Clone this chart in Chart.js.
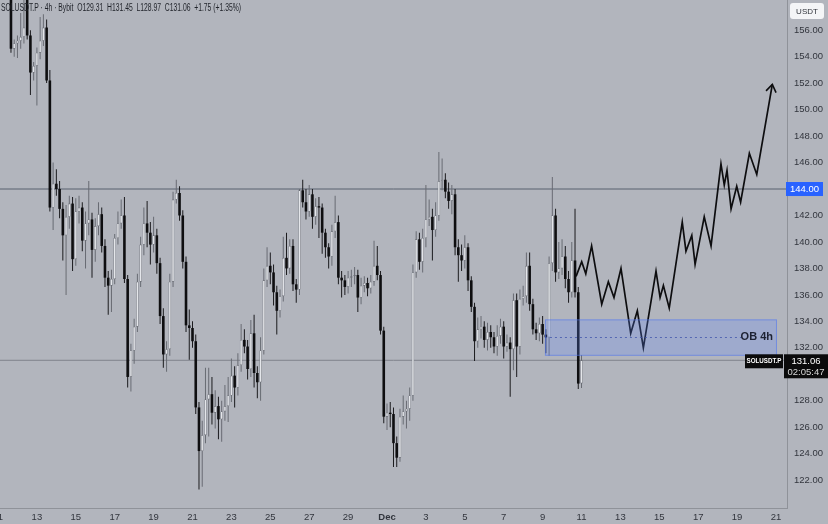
<!DOCTYPE html>
<html>
<head>
<meta charset="utf-8">
<script src="https://cdn.jsdelivr.net/npm/chart.js@4.4.1/dist/chart.umd.min.js"></script>
<style>
  html, body { margin: 0; padding: 0; background: #b2b5bd; }
  #wrap { width: 828px; height: 524px; position: relative; }
</style>
</head>
<body>
<div id="wrap"><canvas id="chart" width="828" height="524"></canvas></div>
<script>
// ---- data ----
// day offsets count from Nov 11 (0) ; one candle = 4h
const firstCandleDay = 4 / 6;
const candleStepDays = 1 / 6;

// [open, high, low, close]
const candles = [
  [159.5,160.0,154.3,154.6],[154.6,155.3,154.0,155.0],[155.0,155.6,153.9,155.2],[155.2,157.3,154.6,155.5],
  [155.5,158.6,155.0,156.2],[158.3,158.8,155.3,155.6],[155.6,156.0,151.1,152.8],[152.8,153.6,152.2,153.3],
  [153.3,154.7,150.3,154.3],[154.3,157.0,153.8,155.2],[155.2,157.2,154.8,156.2],[156.2,156.8,152.0,152.2],
  [152.2,153.0,142.3,142.6],[142.6,146.0,140.9,144.4],[144.4,145.5,143.5,144.0],[144.0,144.6,141.8,142.5],
  [142.5,143.0,138.6,140.5],[140.5,142.8,136.0,141.9],[141.9,143.5,141.0,142.9],[142.9,143.4,137.8,138.7],
  [138.7,143.3,138.2,142.3],[142.3,143.5,141.4,142.6],[142.6,143.0,139.3,140.1],[140.1,142.3,138.0,141.4],
  [141.4,144.6,140.5,141.7],[141.7,142.2,137.3,139.4],[139.4,141.8,138.5,141.2],[141.2,143.0,140.5,142.1],
  [142.1,142.6,139.2,139.7],[139.7,140.2,136.6,137.3],[137.3,137.8,134.5,136.7],[136.7,137.9,134.7,137.2],
  [137.2,140.6,136.8,140.3],[140.3,142.3,139.8,141.4],[141.4,143.2,141.0,142.0],[142.0,143.4,136.9,137.2],
  [137.2,137.5,129.0,129.8],[129.8,132.3,128.7,131.8],[131.8,134.2,130.8,133.6],[133.6,137.6,133.2,137.0],
  [137.0,140.4,136.6,139.8],[139.8,142.6,139.0,141.4],[141.4,143.1,139.6,140.7],[140.7,141.5,138.3,139.8],
  [139.8,141.9,139.2,140.5],[140.5,141.0,137.6,138.4],[138.4,138.8,133.8,134.4],[134.4,135.0,130.5,131.5],
  [131.5,132.5,130.2,131.9],[131.9,137.6,131.4,137.0],[137.0,143.8,136.6,143.2],[143.2,144.7,142.9,143.7],
  [143.7,144.2,141.6,142.0],[142.0,142.4,138.0,138.5],[138.5,138.9,133.2,133.7],[133.7,134.9,131.1,133.5],
  [133.5,134.0,132.0,132.5],[132.5,133.0,127.0,127.5],[127.5,127.9,121.3,124.2],[124.2,126.5,121.5,125.4],
  [125.4,130.5,124.8,128.1],[128.1,130.5,125.3,128.5],[128.5,129.8,126.2,127.1],[127.1,128.8,125.9,127.6],
  [127.6,128.3,125.1,126.6],[126.6,128.0,124.9,127.2],[127.2,129.2,126.5,127.6],[127.6,129.8,126.4,128.4],
  [128.4,131.2,127.9,129.9],[129.9,130.6,127.5,129.0],[129.0,131.6,128.4,130.7],[130.7,133.8,130.2,132.6],
  [132.6,133.4,131.6,132.1],[132.1,132.6,129.6,130.4],[130.4,134.1,129.8,133.1],[133.1,134.5,129.0,130.1],
  [130.1,130.6,128.2,129.4],[129.4,132.8,128.0,131.8],[131.8,138.0,131.5,137.1],[137.1,139.6,136.6,138.2],
  [138.2,139.2,136.8,137.7],[137.7,138.3,135.2,136.2],[136.2,136.7,133.0,134.8],[134.8,136.4,134.3,135.9],
  [135.9,140.4,135.5,138.8],[138.8,140.7,137.5,138.0],[138.0,140.2,137.6,139.7],[139.7,140.2,136.3,136.8],
  [136.8,137.2,135.4,136.4],[136.4,144.0,136.0,143.9],[143.9,144.7,142.6,143.0],[143.0,144.0,141.7,142.3],
  [142.3,144.3,141.9,143.6],[143.6,144.0,141.0,141.9],[141.9,143.3,141.3,142.7],[142.7,143.4,140.3,142.6],
  [142.6,142.9,139.1,140.7],[140.7,141.0,138.8,139.6],[139.6,139.9,138.0,138.9],[138.9,141.3,138.2,140.8],
  [140.8,143.5,140.3,141.5],[141.5,142.0,136.8,137.3],[137.3,137.8,135.8,137.1],[137.1,137.5,136.0,136.6],
  [136.6,137.8,136.1,137.3],[137.3,137.9,136.6,137.4],[137.4,138.1,136.8,137.5],[137.5,137.9,134.7,135.8],
  [135.8,137.3,135.3,136.7],[136.7,137.4,136.2,136.9],[136.9,137.3,135.9,136.5],[136.5,137.5,136.1,137.0],
  [137.0,140.1,136.7,138.2],[138.2,139.7,137.1,137.5],[137.5,137.8,133.0,133.3],[133.3,133.6,126.3,126.8],
  [126.8,127.8,125.8,127.1],[127.1,127.9,126.0,127.0],[127.0,127.5,123.0,124.8],[124.8,125.3,123.0,123.7],
  [123.7,127.4,123.4,126.8],[126.8,128.4,126.2,127.2],[127.2,128.0,125.9,127.4],[127.4,129.0,126.5,128.4],
  [128.4,138.3,128.0,137.7],[137.7,140.8,137.3,140.2],[140.2,140.7,137.9,138.5],[138.5,141.0,137.7,140.3],
  [140.3,144.3,139.6,141.7],[141.7,143.2,141.2,141.9],[141.9,142.5,138.6,140.9],[140.9,143.0,140.4,142.0],
  [142.0,146.8,141.6,144.6],[144.6,146.3,143.9,144.7],[144.7,145.2,143.3,143.8],[143.8,144.5,142.5,143.1],
  [143.1,144.3,142.1,143.6],[143.6,144.0,139.0,139.6],[139.6,140.2,137.0,139.0],[139.0,139.8,137.8,138.6],
  [138.6,140.5,138.0,139.6],[139.6,139.9,136.3,137.1],[137.1,137.4,134.7,135.1],[135.1,135.4,131.0,132.5],
  [132.5,134.3,132.0,133.4],[133.4,134.4,132.7,133.6],[133.6,134.0,132.0,132.6],[132.6,133.9,131.8,133.2],
  [133.2,133.7,132.0,132.8],[132.8,133.2,131.6,132.1],[132.1,133.7,131.4,132.9],[132.9,134.2,132.3,133.6],
  [133.6,134.0,131.2,132.1],[132.1,133.0,131.7,132.4],[132.4,132.8,128.3,131.9],[131.9,136.1,130.3,135.6],
  [135.6,136.1,129.8,132.1],[132.1,136.4,131.5,135.7],[135.7,136.7,135.2,135.9],[135.9,139.2,135.4,138.2],
  [138.2,139.2,134.8,135.3],[135.3,135.7,133.0,133.4],[133.4,133.9,132.6,133.1],[133.1,134.3,132.5,133.8],
  [133.8,134.4,132.3,133.0],[133.0,133.4,131.6,132.8],[132.8,138.9,131.4,138.4],[138.4,144.9,137.8,142.0],
  [142.0,142.5,137.0,137.7],[137.7,140.0,137.2,138.0],[138.0,140.2,137.5,138.9],[138.9,139.7,136.5,137.2],
  [137.2,137.8,135.4,136.2],[136.2,140.0,135.8,138.6],[138.6,142.5,135.8,136.2],[136.2,136.6,128.9,129.3],
  [129.31,131.45,128.97,131.06]
];

// projected path (drawn arrow)
const projDays  = [29.72,30.01,30.22,30.52,31.04,31.38,31.67,32.03,32.53,32.87,33.18,33.83,34.04,34.21,34.51,
                   35.18,35.37,35.67,35.84,36.31,36.66,37.17,37.34,37.48,37.69,37.98,38.18,38.63,39.01,39.81];
const projPrice = [137.4,138.5,137.6,139.7,135.3,137.0,135.8,138.0,133.1,134.8,132.0,137.8,135.8,136.7,135.0,
                   141.5,139.3,140.5,138.3,141.9,139.7,145.9,144.3,145.4,142.5,144.2,143.0,146.7,145.1,151.9];

// levels
const resistance = 144.00;
const lastPrice = 131.06;
const obZone = { fromDay: 28.12, toDay: 40.05, top: 134.15, bottom: 131.4, mid: 132.8 };

// axis
const xTickDays   = [0,2,4,6,8,10,12,14,16,18,20,22,24,26,28,30,32,34,36,38,40];
const xTickLabels = ["11","13","15","17","19","21","23","25","27","29","Dec","3","5","7","9","11","13","15","17","19","21"];
const yTicks = [122,124,126,128,130,132,134,136,138,140,142,144,146,148,150,152,154,156];
const xMin = 0.103, xMax = 40.565;
const yMin = 119.90, yMax = 158.28;

const legendText = "SOLUSDT.P \u00b7 4h \u00b7 Bybit  O129.31  H131.45  L128.97  C131.06  +1.75 (+1.35%)";

// ---- build datasets ----
const times = candles.map((c, i) => firstCandleDay + i * candleStepDays);
const wickData = candles.map((c, i) => ({ x: times[i], y: [c[2], c[1]] }));
const bodyData = candles.map((c, i) => ({ x: times[i], y: [c[0], c[3]] }));
const isUp = i => candles[i][3] >= candles[i][0];

const BG = "#b2b5bd";
const FONT = "'Liberation Sans', Arial, sans-serif";

const bgPlugin = {
  id: "bg",
  beforeDraw(chart) {
    const c = chart.ctx;
    c.save();
    c.fillStyle = BG;
    c.fillRect(0, 0, chart.width, chart.height);
    c.restore();
  }
};

const overlayPlugin = {
  id: "overlay",
  afterDatasetsDraw(chart) {
    const c = chart.ctx, xs = chart.scales.x, ys = chart.scales.y;
    // OB zone
    const l = xs.getPixelForValue(obZone.fromDay), r = xs.getPixelForValue(obZone.toDay);
    const t = ys.getPixelForValue(obZone.top), b = ys.getPixelForValue(obZone.bottom);
    c.save();
    c.fillStyle = "rgba(100,140,255,0.25)";
    c.fillRect(l, t, r - l, b - t);
    c.strokeStyle = "rgba(80,115,235,0.55)";
    c.lineWidth = 1;
    c.strokeRect(l + 0.5, t + 0.5, r - l - 1, b - t - 1);
    const m = ys.getPixelForValue(obZone.mid);
    c.setLineDash([2, 3]);
    c.strokeStyle = "rgba(60,80,170,0.75)";
    c.beginPath();
    c.moveTo(l, Math.round(m) + 0.5);
    c.lineTo(r - 34, Math.round(m) + 0.5);
    c.stroke();
    c.setLineDash([]);
    c.fillStyle = "#1d2233";
    c.font = "bold 11px " + FONT;
    c.textAlign = "right";
    c.textBaseline = "middle";
    c.fillText("OB 4h", r - 4, m);

    // arrow head at end of projection
    const pts = chart.getDatasetMeta(2).data;
    const p1 = pts[pts.length - 2], p2 = pts[pts.length - 1];
    const ang = Math.atan2(p2.y - p1.y, p2.x - p1.x);
    c.strokeStyle = "#0d0d0f";
    c.lineWidth = 1.6;
    c.beginPath();
    c.moveTo(p2.x - 9 * Math.cos(ang - 0.6), p2.y - 9 * Math.sin(ang - 0.6));
    c.lineTo(p2.x, p2.y);
    c.lineTo(p2.x - 9 * Math.cos(ang + 0.6), p2.y - 9 * Math.sin(ang + 0.6));
    c.stroke();
    c.restore();
  },
  afterDraw(chart) {
    const c = chart.ctx, xs = chart.scales.x, ys = chart.scales.y, area = chart.chartArea;
    c.save();
    // legend line
    c.fillStyle = "#1f2229";
    c.font = "10px " + FONT;
    c.textAlign = "left";
    c.textBaseline = "middle";
    c.fillText(legendText, 1, 8, 240);

    // x labels
    c.textAlign = "center";
    xTickDays.forEach((d, i) => {
      c.font = (xTickLabels[i] === "Dec" ? "bold " : "") + "9.5px " + FONT;
      c.fillStyle = "#32353d";
      c.fillText(xTickLabels[i], xs.getPixelForValue(d), area.bottom + 9);
    });

    // y labels
    c.textAlign = "left";
    c.font = "9.5px " + FONT;
    yTicks.forEach(v => {
      c.fillStyle = "#32353d";
      c.fillText(v.toFixed(2), area.right + 7, ys.getPixelForValue(v), 29);
    });

    // USDT box
    c.fillStyle = "#f4f5f7";
    c.beginPath();
    c.roundRect(area.right + 3, 3, 34, 16, 3);
    c.fill();
    c.fillStyle = "#30333b";
    c.font = "8px " + FONT;
    c.textAlign = "center";
    c.fillText("USDT", area.right + 20, 11.5);

    // resistance tag
    const ry = ys.getPixelForValue(resistance);
    c.fillStyle = "#2962ff";
    c.fillRect(area.right - 1, ry - 7, 37, 14);
    c.fillStyle = "#ffffff";
    c.font = "9.5px " + FONT;
    c.fillText(resistance.toFixed(2), area.right + 17.5, ry + 0.5, 33);

    // last price tags
    const py = ys.getPixelForValue(lastPrice);
    c.fillStyle = "#0b0b0c";
    c.fillRect(area.right - 42, py - 6, 38, 14);
    c.fillRect(area.right - 3, py - 6, chart.width - area.right + 3, 24);
    c.fillStyle = "#ffffff";
    c.font = "bold 8px " + FONT;
    c.fillText("SOLUSDT.P", area.right - 23, py + 1, 35);
    c.font = "9.5px " + FONT;
    c.fillText(lastPrice.toFixed(2), area.right + 19, py + 1, 34);
    c.fillStyle = "#d8d8d8";
    c.fillText("02:05:47", area.right + 19, py + 12, 38);
    c.restore();
  }
};

new Chart(document.getElementById("chart"), {
  type: "bar",
  data: {
    datasets: [
      {
        type: "bar", data: bodyData, order: 1, grouped: false,
        barThickness: 2.6, inflateAmount: 0, borderSkipped: false,
        borderWidth: ctx => isUp(ctx.dataIndex) ? 0.6 : 0,
        borderColor: "#6d7078",
        backgroundColor: ctx => isUp(ctx.dataIndex) ? "#e4e6ea" : "#0e0e10"
      },
      {
        type: "bar", data: wickData, order: 2, grouped: false,
        barThickness: 1, inflateAmount: 0, borderWidth: 0,
        backgroundColor: ctx => isUp(ctx.dataIndex) ? "#686b73" : "#1b1b1e"
      },
      {
        type: "line", order: 0,
        data: projDays.map((d, i) => ({ x: d, y: projPrice[i] })),
        borderColor: "#0d0d0f", borderWidth: 1.7, pointRadius: 0, tension: 0
      },
      {
        type: "line", order: 5,
        data: [{ x: xMin, y: resistance }, { x: xMax, y: resistance }],
        borderColor: "#58606f", borderWidth: 1, pointRadius: 0
      },
      {
        type: "line", order: 5,
        data: [{ x: xMin, y: lastPrice }, { x: xMax, y: lastPrice }],
        borderColor: "#80838b", borderWidth: 1, pointRadius: 0
      }
    ]
  },
  options: {
    responsive: false,
    animation: false,
    devicePixelRatio: 1,
    layout: { padding: 0 },
    plugins: { legend: { display: false }, tooltip: { enabled: false } },
    scales: {
      x: {
        type: "linear", min: xMin, max: xMax, offset: false,
        grid: { display: false, drawTicks: false },
        border: { display: true, color: "#8f9299" },
        ticks: { display: false },
        afterFit: s => { s.height = 16; }
      },
      y: {
        type: "linear", position: "right", min: yMin, max: yMax,
        grid: { display: false, drawTicks: false },
        border: { display: true, color: "#8f9299" },
        ticks: { display: false },
        afterFit: s => { s.width = 41; }
      }
    }
  },
  plugins: [bgPlugin, overlayPlugin]
});
</script>
</body>
</html>
